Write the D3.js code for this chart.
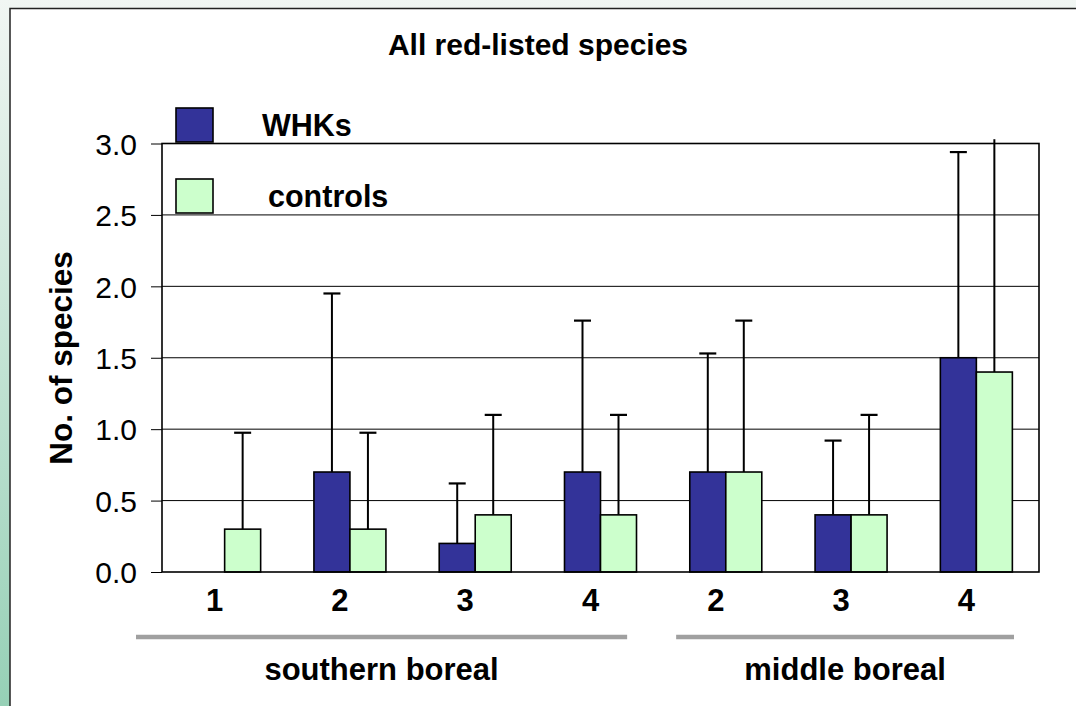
<!DOCTYPE html>
<html>
<head>
<meta charset="utf-8">
<script src="https://cdnjs.cloudflare.com/ajax/libs/d3/7.8.5/d3.min.js"></script>
<style>
  html, body { margin: 0; padding: 0; overflow: hidden; }
  svg { display: block; font-family: Arial, "Liberation Sans", sans-serif; }
</style>
</head>
<body>
<svg id="chart" width="1076" height="706"></svg>
<script>
// ---- data ----
const categories = ["sb1", "sb2", "sb3", "sb4", "mb2", "mb3", "mb4"];
const categoryLabels = ["1", "2", "3", "4", "2", "3", "4"];
const regions = ["southern boreal", "middle boreal"];
const regionOfCategory = [0, 0, 0, 0, 1, 1, 1];
const seriesNames = ["WHKs", "controls"];
const whkValues = [0, 0.7, 0.2, 0.7, 0.7, 0.4, 1.5];
const whkUpper = [0, 1.95, 0.62, 1.76, 1.53, 0.92, 2.94];
const controlValues = [0.3, 0.3, 0.4, 0.4, 0.7, 0.4, 1.4];
const controlUpper = [0.975, 0.975, 1.1, 1.1, 1.76, 1.1, 3.04];
const yTicks = [0, 0.5, 1.0, 1.5, 2.0, 2.5, 3.0];
const title = "All red-listed species";
const yTitle = "No. of species";

const colors = { "WHKs": "#333399", "controls": "#CCFFCC" };

const svg = d3.select("#chart");

// background
const defs = svg.append("defs");
const grad = defs.append("linearGradient").attr("id", "bg").attr("x1", 0).attr("y1", 0).attr("x2", 0).attr("y2", 1);
grad.append("stop").attr("offset", "0%").attr("stop-color", "#f1f6f3");
grad.append("stop").attr("offset", "100%").attr("stop-color", "#96d0b6");
svg.append("rect").attr("width", 1076).attr("height", 706).attr("fill", "url(#bg)");
svg.append("rect").attr("x", 10).attr("y", 8.5).attr("width", 1080).attr("height", 720)
  .attr("fill", "#ffffff").attr("stroke", "#222").attr("stroke-width", 1.5);

const plot = { left: 162, right: 1039, top: 143.5, bottom: 572 };

const x = d3.scaleBand().domain(categories).range([plot.left, plot.right]).paddingInner(0).paddingOuter(0);
const xs = d3.scaleBand().domain(seriesNames).range([0, x.bandwidth()]).paddingInner(0).paddingOuter(0.74);
const y = d3.scaleLinear().domain([0, 3]).range([plot.bottom, plot.top]);

// gridlines
svg.append("g").selectAll("line").data(yTicks.slice(1, -1)).join("line")
  .attr("x1", plot.left).attr("x2", plot.right)
  .attr("y1", d => y(d)).attr("y2", d => y(d))
  .attr("stroke", "#000").attr("stroke-width", 1);

// y axis
const yAxis = d3.axisLeft(y).tickValues(yTicks).tickFormat(d3.format(".1f")).tickSize(11).tickPadding(14);
const ya = svg.append("g").attr("transform", `translate(${plot.left},0)`).call(yAxis);
ya.select(".domain").remove();
ya.selectAll(".tick line").attr("stroke", "#000").attr("stroke-width", 1);
ya.selectAll(".tick text").attr("font-size", 30).attr("fill", "#000")
  .attr("font-family", "Arial, 'Liberation Sans', sans-serif").attr("dy", "0.36em");

// series data
const rows = categories.map((c, i) => ({
  cat: c,
  vals: [
    { s: "WHKs", v: whkValues[i], up: whkUpper[i] },
    { s: "controls", v: controlValues[i], up: controlUpper[i] }
  ]
}));

// error bars (drawn below bars)
const eg = svg.append("g");
rows.forEach(r => {
  r.vals.forEach(d => {
    if (d.up <= d.v) return;
    const cx = x(r.cat) + xs(d.s) + xs.bandwidth() / 2;
    eg.append("line").attr("x1", cx).attr("x2", cx)
      .attr("y1", y(d.v)).attr("y2", y(Math.min(d.up, 3.03)))
      .attr("stroke", "#000").attr("stroke-width", 2);
    if (d.up <= 3) {
      eg.append("line").attr("x1", cx - 8.5).attr("x2", cx + 8.5)
        .attr("y1", y(d.up)).attr("y2", y(d.up))
        .attr("stroke", "#000").attr("stroke-width", 2.2);
    }
  });
});

// bars
const bg = svg.append("g");
rows.forEach(r => {
  bg.selectAll(null).data(r.vals).join("rect")
    .attr("x", d => x(r.cat) + xs(d.s))
    .attr("y", d => y(d.v))
    .attr("width", xs.bandwidth())
    .attr("height", d => y(0) - y(d.v))
    .attr("fill", d => colors[d.s])
    .attr("stroke", "#000").attr("stroke-width", 1.6);
});

// plot frame
svg.append("rect").attr("x", plot.left).attr("y", plot.top)
  .attr("width", plot.right - plot.left).attr("height", plot.bottom - plot.top)
  .attr("fill", "none").attr("stroke", "#000").attr("stroke-width", 1.6);

// x category labels
const xAxis = d3.axisBottom(x).tickFormat((d, i) => categoryLabels[i]).tickSize(0).tickPadding(0);
const xa = svg.append("g").attr("transform", `translate(0,${plot.bottom})`).call(xAxis);
xa.select(".domain").remove();
xa.selectAll(".tick text").attr("font-size", 31).attr("font-weight", "bold").attr("fill", "#000")
  .attr("font-family", "Arial, 'Liberation Sans', sans-serif")
  .attr("dy", 0).attr("y", 39).attr("dx", -10);

// region lines and labels
regions.forEach((name, ri) => {
  const cats = categories.filter((c, i) => regionOfCategory[i] === ri);
  const start = x(cats[0]);
  const end = x(cats[cats.length - 1]) + x.bandwidth();
  const x1 = ri === 0 ? start - 26 : start + 13;
  const x2 = ri === 0 ? end - 36 : end - 25;
  svg.append("line").attr("x1", x1).attr("x2", x2).attr("y1", 637).attr("y2", 637)
    .attr("stroke", "#a0a0a0").attr("stroke-width", 4.5);
  svg.append("text").attr("x", (x1 + x2) / 2).attr("y", 680)
    .attr("text-anchor", "middle").attr("font-size", 31).attr("font-weight", "bold")
    .attr("fill", "#000").text(name);
});

// title
svg.append("text").attr("x", 538).attr("y", 55).attr("text-anchor", "middle")
  .attr("font-size", 30).attr("font-weight", "bold").attr("fill", "#000").text(title);

// y title
svg.append("text").attr("transform", "translate(72,358) rotate(-90)")
  .attr("text-anchor", "middle").attr("font-size", 31.5).attr("font-weight", "bold")
  .attr("fill", "#000").text(yTitle);

// legend
const legendY = [108, 179];
seriesNames.forEach((s, i) => {
  svg.append("rect").attr("x", 176).attr("y", legendY[i]).attr("width", 37).attr("height", 34)
    .attr("fill", colors[s]).attr("stroke", "#000").attr("stroke-width", 1.6);
  svg.append("text").attr("x", i === 0 ? 262 : 268).attr("y", legendY[i] + 28)
    .attr("font-size", 30.5).attr("font-weight", "bold").attr("fill", "#000").text(s);
});
</script>
</body>
</html>
